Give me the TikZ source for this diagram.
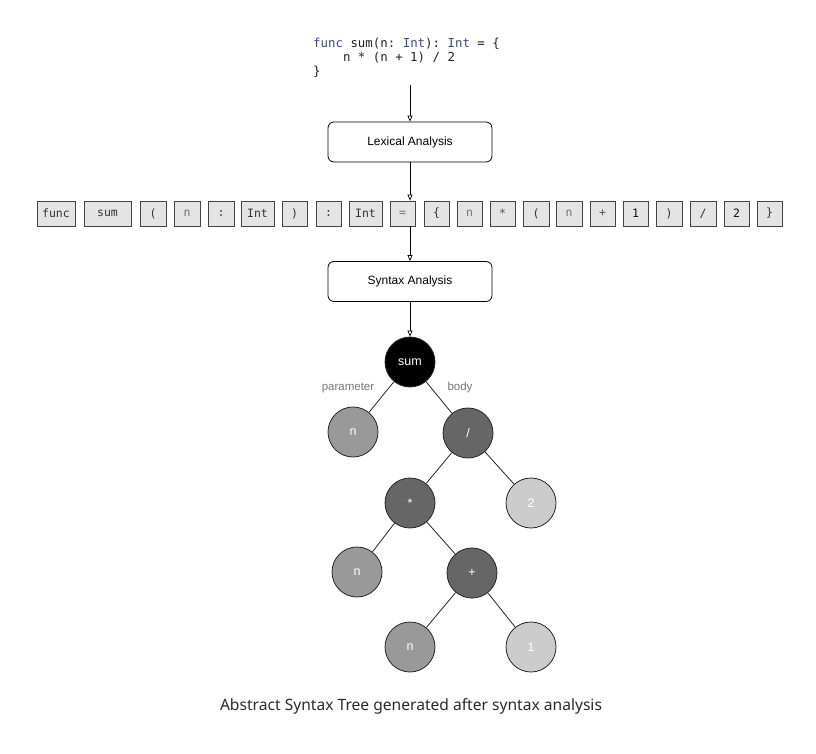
\documentclass[tikz,border=0pt]{standalone}
\usepackage{fontspec}
\setmainfont{Liberation Sans}
\setmonofont{DejaVu Sans Mono}
\newfontfamily\captionfont{Noto Sans}
\usetikzlibrary{arrows.meta}

\definecolor{kw}{HTML}{3A4A8A}
\definecolor{codeink}{HTML}{222222}
\definecolor{tokfill}{HTML}{E4E4E4}
\definecolor{tokline}{HTML}{444444}
\definecolor{dk}{HTML}{333333}
\definecolor{lt}{HTML}{707070}
\definecolor{md}{HTML}{555555}
\definecolor{bk}{HTML}{111111}
\definecolor{labgray}{HTML}{777777}
\definecolor{capink}{HTML}{2B2B2B}

\tikzset{
  arr/.style={draw=black, line width=0.8pt,
    -{Triangle[open, length=6pt, width=5pt, line width=0.7pt, fill=white]}},
  stage/.style={draw=black, line width=0.8pt, rounded corners=6pt, fill=white,
    minimum width=164pt, minimum height=40pt, inner sep=0pt,
    font=\fontsize{12}{14}\selectfont},
  tok/.style={draw=tokline, line width=0.7pt, fill=tokfill, inner sep=0pt,
    minimum height=25pt, font=\ttfamily\fontsize{11.5}{13}\selectfont},
  astnode/.style={circle, draw=black!85, line width=0.8pt, minimum size=50pt,
    inner sep=0pt, text=white, font=\fontsize{12.5}{14}\selectfont},
  edge/.style={draw=black!85, line width=0.8pt},
  rolelabel/.style={text=labgray, font=\fontsize{11.5}{13}\selectfont}
}

\begin{document}
\begin{tikzpicture}[x=1pt, y=-1pt]
\useasboundingbox[fill=white] (0,0) rectangle (816,754);

% source code
\node[anchor=north west, inner sep=0pt, align=left, text=codeink,
      font=\ttfamily\fontsize{12.4}{14}\selectfont] (code) at (313,38)
  {\textcolor{kw}{func} sum(n: \textcolor{kw}{Int}): \textcolor{kw}{Int} = \{\\
   \ \ \ \ n * (n + 1) / 2\\
   \}};
\coordinate (codeout) at (410,85);

% compiler stages
\node[stage] (lex) at (410,142) {Lexical Analysis};
\node[stage] (syn) at (410,281.5) {Syntax Analysis};

% token stream
\foreach \l/\r/\s/\c [count=\i] in {
  37/75/func/dk, 84/131/sum/dk, 140/166/{(}/dk, 174/200/n/lt, 208/234/:/dk,
  241/274/Int/dk, 282/307/{)}/dk, 316/341/:/dk, 349/382/Int/dk, 390/415/=/lt,
  424/449/\{/dk, 457/482/n/lt, 490/515/*/md, 523/549/{(}/dk, 556/582/n/lt,
  590/615/+/md, 623/648/1/bk, 656/682/{)}/dk, 690/716/{/}/dk, 724/749/2/bk,
  757/782/\}/dk}
  \node[tok, text=\c, minimum width={(\r-\l)*1pt}] (t\i) at ({(\l+\r)/2},213.5) {\s};

% abstract syntax tree
\node[astnode, fill=black] (sum) at (410,362) {sum};
\node[astnode, fill=black!40] (par) at (353,432) {n};
\node[astnode, fill=black!60] (div) at (468,433) {/};
\node[astnode, fill=black!60] (mul) at (410,503) {*};
\node[astnode, fill=black!20] (two) at (531,503) {2};
\node[astnode, fill=black!40] (na) at (357,572) {n};
\node[astnode, fill=black!60] (add) at (472,573) {+};
\node[astnode, fill=black!40] (nb) at (410,647) {n};
\node[astnode, fill=black!20] (one) at (531,647) {1};

\draw[edge] (sum) -- (par);
\draw[edge] (sum) -- (div);
\draw[edge] (div) -- (mul);
\draw[edge] (div) -- (two);
\draw[edge] (mul) -- (na);
\draw[edge] (mul) -- (add);
\draw[edge] (add) -- (nb);
\draw[edge] (add) -- (one);

\node[rolelabel] (lpar) at (348,388) {parameter};
\node[rolelabel] (lbody) at (460,388) {body};

% flow arrows, all on the vertical axis x = 410
\draw[arr] (codeout) -- (lex.north);
\draw[arr] (lex.south) -- (lex.south |- t10.north);
\draw[arr] (lex.south |- t10.south) -- (syn.north);
\draw[arr] (syn.south) -- (sum.north);

% caption
\node[text=capink, font=\captionfont\fontsize{15.6}{18}\selectfont] (cap) at (411,706)
  {Abstract Syntax Tree generated after syntax analysis};
\end{tikzpicture}
\end{document}
